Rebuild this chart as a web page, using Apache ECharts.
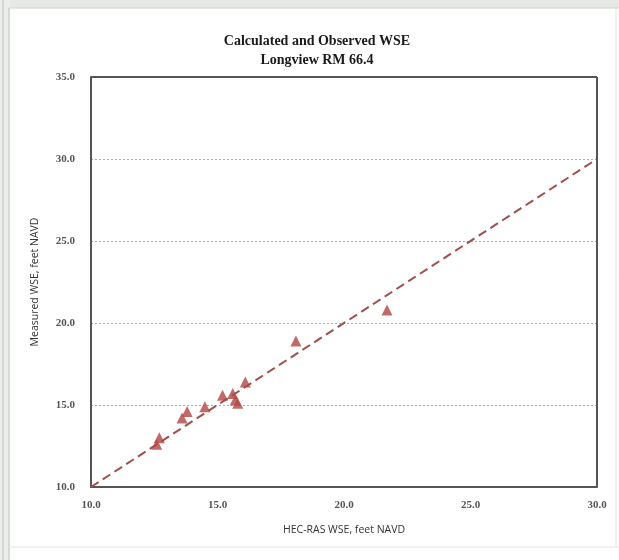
<!DOCTYPE html>
<html><head><meta charset="utf-8">
<script src="https://cdn.jsdelivr.net/npm/echarts@6/dist/echarts.min.js"></script>
<style>html,body{margin:0;padding:0;background:#fff}#c{width:619px;height:560px}</style>
</head><body><div id="c"></div>
<script>
const titleLines = ["Calculated and Observed WSE", "Longview RM 66.4"];
const xName = "HEC-RAS WSE, feet NAVD";
const yName = "Measured WSE, feet NAVD";
const calcWSE = [12.7, 12.6, 13.8, 13.6, 14.5, 15.2, 15.6, 15.7, 15.8, 16.1, 18.1, 21.7];
const measWSE = [13.0, 12.6, 14.6, 14.2, 14.9, 15.6, 15.7, 15.3, 15.1, 16.4, 18.9, 20.8];
const oneToOne = [[10, 10], [30, 30]];

const chart = echarts.init(document.getElementById('c'));
const pts = calcWSE.map((x, i) => [x, measWSE[i]]);
chart.setOption({
  backgroundColor: '#ffffff',
  animation: false,
  graphic: [
    {type: 'rect', shape: {x: 0, y: 0, width: 619, height: 8}, style: {fill: '#e6e9e6'}, z: -10},
    {type: 'rect', shape: {x: 0, y: 0, width: 10, height: 560}, style: {fill: '#eceeec'}, z: -10},
    {type: 'line', shape: {x1: 3, y1: 0, x2: 3, y2: 560}, style: {stroke: '#bfc3bf', lineWidth: 1}},
    {type: 'line', shape: {x1: 9, y1: 8, x2: 9, y2: 560}, style: {stroke: '#bfc3bf', lineWidth: 1}},
    {type: 'line', shape: {x1: 9, y1: 8, x2: 619, y2: 8}, style: {stroke: '#d0d4d0', lineWidth: 1}},
    {type: 'line', shape: {x1: 616, y1: 8, x2: 616, y2: 547}, style: {stroke: '#e0e2e0', lineWidth: 1}},
    {type: 'line', shape: {x1: 9, y1: 547, x2: 619, y2: 547}, style: {stroke: '#e2e4e2', lineWidth: 1}}
  ],
  title: {
    text: titleLines.join('\n'),
    left: 312, top: 27, textAlign: 'center',
    textStyle: {fontFamily: 'Liberation Serif', fontWeight: 'bold', fontSize: 14, lineHeight: 19, color: '#1a1a1a'}
  },
  grid: {left: 91, right: 22, top: 77, bottom: 73},
  xAxis: {
    type: 'value', min: 10, max: 30, interval: 5,
    name: xName, nameLocation: 'middle', nameGap: 38,
    nameTextStyle: {fontFamily: 'Open Sans', fontSize: 10.5, color: '#333'},
    axisLine: {show: true, lineStyle: {color: '#555', width: 2}},
    axisTick: {show: false},
    splitLine: {show: false},
    axisLabel: {formatter: v => v.toFixed(1), fontFamily: 'Liberation Serif', fontWeight: 'bold', fontSize: 11, color: '#555', margin: 13}
  },
  yAxis: {
    type: 'value', min: 10, max: 35, interval: 5,
    name: yName, nameLocation: 'middle', nameGap: 50,
    nameTextStyle: {fontFamily: 'Open Sans', fontSize: 10.5, color: '#333'},
    axisLine: {show: true, lineStyle: {color: '#555', width: 2}},
    axisTick: {show: false},
    splitLine: {show: true, lineStyle: {color: '#aaa', type: [2, 2], width: 1}},
    axisLabel: {formatter: v => v.toFixed(1), fontFamily: 'Liberation Serif', fontWeight: 'bold', fontSize: 11, color: '#555', margin: 16}
  },
  series: [
    {
      type: 'line', data: oneToOne, symbol: 'none', silent: true,
      lineStyle: {color: '#a0504c', width: 2, type: [9, 5]}, z: 2,
      markLine: {
        silent: true, symbol: 'none', label: {show: false},
        lineStyle: {color: '#555', width: 2, type: 'solid'},
        data: [[{coord: [10, 35]}, {coord: [30, 35]}], [{coord: [30, 35]}, {coord: [30, 10]}]]
      }
    },
    {
      type: 'scatter', data: pts, symbol: 'triangle', symbolSize: 11,
      itemStyle: {color: '#b04644'}, z: 3
    }
  ]
});
</script></body></html>
